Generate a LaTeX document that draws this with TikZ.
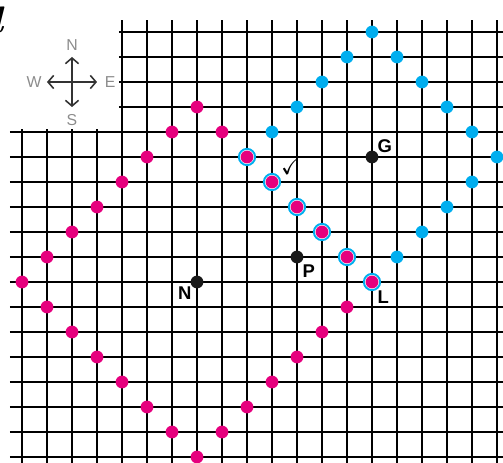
\documentclass[tikz,border=0pt]{standalone}
\usepackage{amssymb}
\usepackage{fontspec}
\newfontfamily\labelfont{Liberation Sans}
\usetikzlibrary{arrows.meta,positioning}
\definecolor{magentaP}{HTML}{E6007E}
\definecolor{cyanP}{HTML}{00AEEF}

\begin{document}
\begin{tikzpicture}[x=0.5cm,y=0.5cm,
        gridline/.style={black,line width=0.6pt},
        magdot/.style={circle,fill=magentaP,minimum size=0.255cm,inner sep=0pt,outer sep=0pt},
        cyandot/.style={magdot,fill=cyanP},
        blkdot/.style={magdot,fill=black!90},
        ringdot/.style={circle,draw=cyanP,fill=white,line width=1.1pt,minimum size=0.325cm,inner sep=0pt},
        lbl/.style={font=\labelfont\bfseries\fontsize{10.5}{12}\selectfont,inner sep=0pt},
        dirlbl/.style={font=\labelfont\fontsize{9}{10}\selectfont,text=black!45,inner sep=0pt},
        compass/.style={black!80,line width=0.9pt,{Straight Barb[length=3.2pt,width=7.5pt]}-{Straight Barb[length=3.2pt,width=7.5pt]}}]
        \useasboundingbox (-0.88,-0.24) rectangle (19.24,18.28);
        \node[font=\bfseries\itshape\fontsize{21}{24}\selectfont,anchor=base east,inner sep=0pt] (head) at (-0.72,16.96) {d};
        \foreach \r in {0,...,13}
          \draw[gridline] (-0.48,\r) -- (19.5,\r);
        \foreach \r in {14,...,17}
          \draw[gridline] (3.88,\r) -- (19.5,\r);
        \foreach \c in {0,...,3}
          \draw[gridline] (\c,-0.5) -- (\c,13.12);
        \foreach \c in {4,...,19}
          \draw[gridline] (\c,-0.5) -- (\c,17.48);
        \coordinate (cmp) at (2,15);
        \coordinate (cN) at (2,16);
        \coordinate (cS) at (2,14);
        \coordinate (cW) at (1,15);
        \coordinate (cE) at (3,15);
        \draw[compass] (cW) -- (cE);
        \draw[compass] (cS) -- (cN);
        \node[dirlbl,above=0.12cm of cN] (lN) {N};
        \node[dirlbl,below=0.15cm of cS] (lS) {S};
        \node[dirlbl,left=0.1cm of cW] (lW) {W};
        \node[dirlbl,right=0.15cm of cE] (lE) {E};
        \foreach \d in {0,...,5}
          \node[ringdot] (ring\d) at (14-\d,7+\d) {};
        \foreach \d in {0,...,6} {
          \node[magdot] (tr\d) at (7+\d,14-\d) {};
          \node[magdot] (br\d) at (14-\d,7-\d) {};
          \node[magdot] (bl\d) at (7-\d,\d) {};
          \node[magdot] (tl\d) at (\d,7+\d) {};
        }
        \foreach \d in {1,...,4}
          \node[cyandot] (ctl\d) at (9+\d,12+\d) {};
        \foreach \d in {0,...,4} {
          \node[cyandot] (ctr\d) at (14+\d,17-\d) {};
          \node[cyandot] (cbr\d) at (19-\d,12-\d) {};
        }
        \node[blkdot] (G) at (14,12) {};
        \node[blkdot] (P) at (11,8) {};
        \node[blkdot] (N) at (7,7) {};
        \node[lbl,above right=-0.5pt and 0.4pt of G] (Glbl) {G};
        \node[lbl,below right=1.6pt and 0.4pt of P] (Plbl) {P};
        \node[lbl,below left=0pt and 0.4pt of N] (Nlbl) {N};
        \node[lbl,below right=2.2pt and 0.4pt of br0] (Llbl) {L};
        \node[inner sep=0pt,scale=1.3,above right=1.6pt and 2.4pt of tr3] (tick) {$\checkmark$};
      \end{tikzpicture}
\end{document}
